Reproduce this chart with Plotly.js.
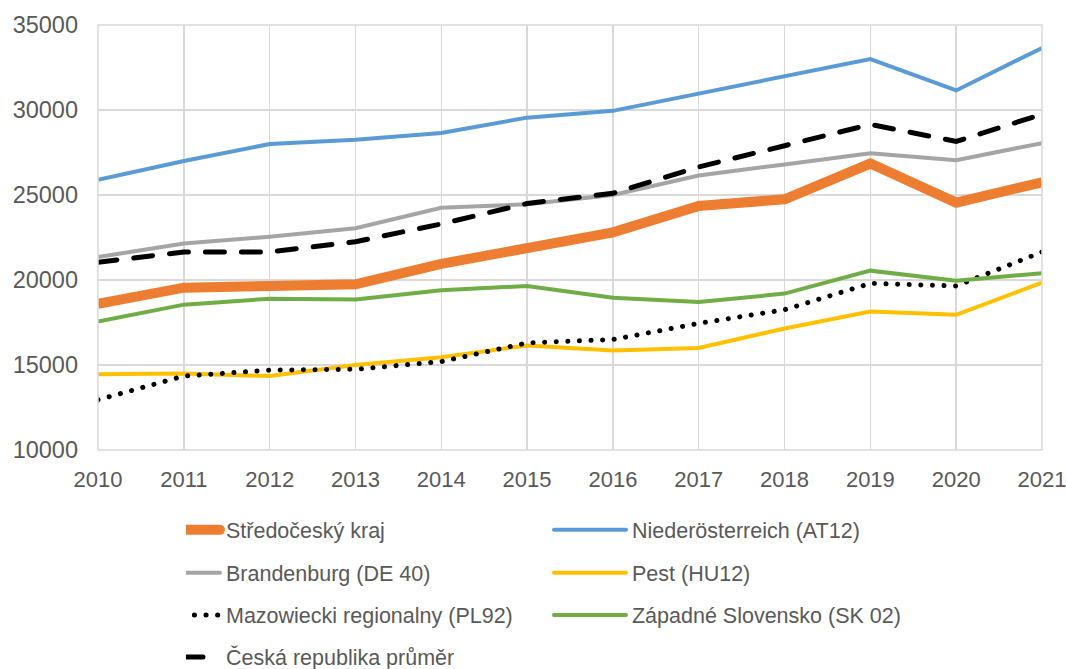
<!DOCTYPE html>
<html>
<head>
<meta charset="utf-8">
<script src="https://cdn.plot.ly/plotly-3.0.1.min.js"></script>
<style>html,body{margin:0;padding:0;background:#fff;}#chart{width:1066px;height:669px;}</style>
</head>
<body>
<div id="chart"></div>
<script>
const years = [2010, 2011, 2012, 2013, 2014, 2015, 2016, 2017, 2018, 2019, 2020, 2021];
const names = ["Středočeský kraj", "Niederösterreich (AT12)", "Brandenburg (DE 40)", "Pest (HU12)", "Mazowiecki regionalny (PL92)", "Západné Slovensko (SK 02)", "Česká republika průměr"];
const stredocesky = [18600, 19550, 19650, 19750, 20950, 21850, 22800, 24350, 24750, 26850, 24550, 25750];
const niederoesterreich = [25900, 27000, 28000, 28250, 28650, 29550, 29950, 30950, 32000, 33000, 31150, 33650];
const brandenburg = [21350, 22150, 22550, 23050, 24250, 24450, 25000, 26150, 26800, 27450, 27050, 28050];
const pest = [14450, 14500, 14350, 15000, 15450, 16150, 15850, 16000, 17150, 18150, 17950, 19850];
const mazowiecki = [12950, 14350, 14700, 14750, 15200, 16300, 16500, 17450, 18250, 19800, 19650, 21650];
const zapadne = [17550, 18550, 18900, 18850, 19400, 19650, 18950, 18700, 19200, 20550, 19950, 20400];
const ceska = [21050, 21650, 21650, 22250, 23300, 24500, 25100, 26650, 27900, 29150, 28150, 29750];
const yTicks = [10000, 15000, 20000, 25000, 30000, 35000];

const series = [stredocesky, niederoesterreich, brandenburg, pest, mazowiecki, zapadne, ceska];
const colors = ["#ED7D31", "#5B9BD5", "#A5A5A5", "#FFC000", "#000000", "#70AD47", "#000000"];
const widths = [10, 4, 4, 4, 5, 4, 5];
const dashes = ["solid", "solid", "solid", "solid", "0.1px,11.5px", "solid", "19px,17px"];
const legendIds = ["legend", "legend", "legend2", "legend2", "legend3", "legend3", "legend4"];

const traces = series.map((s, i) => ({
  x: years, y: s, name: names[i], type: "scatter", mode: "lines",
  line: {color: colors[i], width: widths[i], dash: dashes[i]},
  legend: legendIds[i],
  hoverinfo: "x+y+name"
}));

function leg(yc) {
  return {
    orientation: "h", x: 0.0932, xanchor: "left", y: yc, yanchor: "middle",
    entrywidth: 361, entrywidthmode: "pixels",
    font: {size: 21.5, color: "#595959"}, bgcolor: "rgba(0,0,0,0)", borderwidth: 0
  };
}

const layout = {
  width: 1066, height: 669,
  margin: {l: 98, r: 24, t: 25, b: 219, autoexpand: false},
  paper_bgcolor: "#ffffff", plot_bgcolor: "#ffffff",
  font: {family: "Liberation Sans, Arial, sans-serif", size: 21.5, color: "#595959"},
  xaxis: {
    range: [2010, 2021], tickvals: years, ticktext: years.map(String),
    showgrid: true, gridcolor: "#D9D9D9", gridwidth: 1.5, automargin: false,
    showline: false, zeroline: false, ticks: "", ticklen: 0, ticklabelstandoff: 14,
    ticklabeloverflow: "allow",
    tickfont: {size: 22, color: "#595959"}
  },
  yaxis: {
    range: [10000, 35000], tickvals: yTicks, ticktext: yTicks.map(String),
    showgrid: true, gridcolor: "#D9D9D9", gridwidth: 1.5, automargin: false,
    showline: false, zeroline: false, ticks: "", ticklabelstandoff: 19,
    ticklabeloverflow: "allow",
    tickfont: {size: 23.5, color: "#595959"}
  },
  shapes: [
    {type: "rect", xref: "paper", yref: "paper", x0: 0, x1: 1, y0: 0, y1: 1, line: {color: "#D9D9D9", width: 1.5}}
  ],
  showlegend: true,
  legend: leg(-0.188),
  legend2: leg(-0.289),
  legend3: leg(-0.388),
  legend4: leg(-0.487)
};

Plotly.newPlot("chart", traces, layout, {displayModeBar: false, staticPlot: true}).then(gd => {
  // round caps for dotted and dashed series
  const tr = gd.querySelectorAll(".scatterlayer .trace");
  [4, 6].forEach(i => {
    if (tr[i]) tr[i].querySelectorAll("path.js-line").forEach(p => p.style.strokeLinecap = "round");
  });
  // longer legend samples like the original
  gd.querySelectorAll(".legendlines path").forEach(p => {
    p.setAttribute("d", "M-38,0h72");
    p.style.strokeLinecap = "round";
  });
});
</script>
</body>
</html>
